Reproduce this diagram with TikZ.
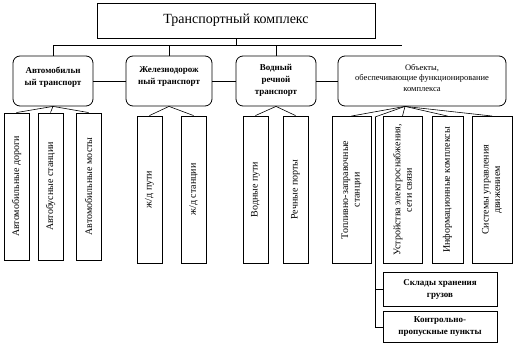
\documentclass[tikz,border=0pt]{standalone}
\usepackage{fontspec}
\setmainfont{Liberation Serif}
\usetikzlibrary{positioning}

\begin{document}
\begin{tikzpicture}[x=1pt, y=-1pt,
    mainbox/.style={rectangle, draw=black, line width=0.8pt, minimum width=278pt, minimum height=35pt, font=\fontsize{14}{16}\selectfont},
    groupbox/.style={rectangle, rounded corners=7pt, draw=black, line width=0.8pt, minimum width=80pt, minimum height=50pt, text depth=10pt, align=center, font=\bfseries\fontsize{9}{12}\selectfont},
    item/.style={rectangle, draw=black, line width=0.9pt, rotate=90, minimum width=147pt, minimum height=25pt, inner sep=1pt, align=center, font=\fontsize{10}{11.5}\selectfont},
    extra/.style={rectangle, draw=black, line width=0.9pt, minimum width=114pt, minimum height=33pt, align=center, font=\bfseries\fontsize{9}{12}\selectfont},
    link/.style={draw=black, line width=0.6pt}
]
\useasboundingbox (0,0) rectangle (515,347);

% Top level
\node[mainbox] (title) at (236,20.5) {Транспортный комплекс};

% Transport groups
\node[groupbox] (auto) at (53,81) {Автомобильн\\ый транспорт};
\node[groupbox, minimum width=86pt] (rail) at (169,81) {Железнодорож\\ный транспорт};
\node[groupbox, text depth=4pt] (water) at (276,81) {Водный\\речной\\транспорт};
\node[groupbox, minimum width=168pt, text depth=7pt, font=\fontsize{8.5}{10.5}\selectfont] (obj) at (422,81) {Объекты,\\обеспечивающие функционирование\\комплекса};

% Bus from the title
\coordinate (busend) at (402,45);
\draw[link] (title.south) -- (title.south |- busend);
\draw[link] (auto.north) |- (busend);
\draw[link] (rail.north) -- (rail.north |- busend);
\draw[link] (water.north) -- (water.north |- busend);

% Links between groups
\draw[link] (auto.east) -- (rail.west);
\draw[link] (rail.east) -- (water.west);
\draw[link] (water.east) -- (obj.west);

% Road transport
\node[item] (roads) at (16.5,186.5) {Автомобильные дороги};
\node[item] (busst) at (50.5,186.5) {Автобусные станции};
\node[item] (bridges) at (88.5,186.5) {Автомобильные мосты};

% Railway
\node[item] (rtracks) at (149.5,189.5) {ж/д пути};
\node[item] (rstations) at (193.5,189.5) {ж/д станции};

% Water transport
\node[item] (waterways) at (255.5,189.5) {Водные пути};
\node[item] (ports) at (295.5,189.5) {Речные порты};

% Supporting objects
\node[item, minimum height=39pt] (fuel) at (351.5,190) {Топливно-заправочные\\станции};
\node[item, minimum height=39pt] (power) at (402.5,190) {Устройства электроснабжения,\\сети связи};
\node[item, minimum height=31pt] (info) at (447.5,190) {Информационные комплексы};
\node[item, minimum height=40pt] (traffic) at (492,190) {Системы управления\\движением};
\node[extra, minimum height=34pt] (store) at (440,289.5) {Склады хранения\\грузов};
\node[extra, minimum height=31pt] (check) at (440,327) {Контрольно-\\пропускные пункты};

% Fans to the items
\foreach \c in {roads,busst,bridges} \draw[link] (auto.south) -- (\c.east);
\foreach \c in {rtracks,rstations} \draw[link] (rail.south) -- (\c.east);
\foreach \c in {waterways,ports} \draw[link] (water.south) -- (\c.east);
\coordinate (objfan) at ([xshift=-17pt]obj.south);
\coordinate (branch) at (375,117);
\foreach \c in {fuel,power,info,traffic} \draw[link] (objfan) -- (\c.east);
\draw[link] (objfan) -- (branch);
\draw[link] (branch) |- (store.west);
\draw[link] (branch) |- (check.west);

\end{tikzpicture}
\end{document}
